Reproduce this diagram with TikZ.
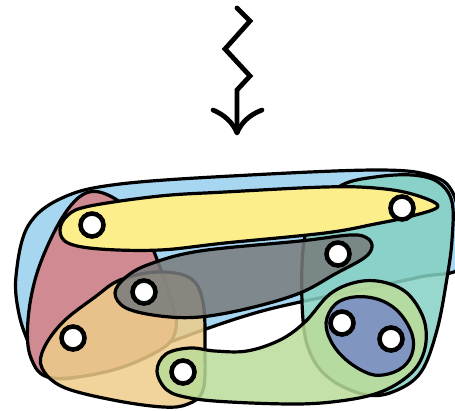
\documentclass[tikz,border=0pt]{standalone}
\usetikzlibrary{arrows.meta}
\definecolor{cblue}{RGB}{166,214,240}
\definecolor{cred}{RGB}{208,138,146}
\definecolor{cyellow}{RGB}{252,238,138}
\definecolor{cteal}{RGB}{134,209,195}
\definecolor{corange}{RGB}{237,204,137}
\definecolor{cgray}{RGB}{120,123,124}
\definecolor{cgreen}{RGB}{186,220,153}
\definecolor{cindigo}{RGB}{128,150,192}
\tikzset{
  blob/.style={draw=black, line width=3.2pt, line join=round},
  seethrough/.style={fill opacity=0.85},
  vertex/.style={circle, draw=black, fill=white, line width=4.6pt, minimum size=23pt, inner sep=0pt},
  zig/.style={line width=4.8pt, line cap=round, line join=miter},
  barb/.style={line width=4.8pt, line cap=round, line join=round}
}
\begin{document}
\begin{tikzpicture}[x=1pt,y=-1pt]
\useasboundingbox (0,0) rectangle (455,410);

% blue ring (horseshoe)
\filldraw[blob, fill=cblue] plot[smooth cycle, tension=0.6] coordinates {
 (45,372) (30,346) (19,314) (16,276) (28,226) (62,198) (120,184) (250,175) (380,170)
 (432,176) (453,193) (460,230) (460,268) (420,277) (350,292) (300,302)
 (255,313) (203,330) (130,357) (72,378)};

% red
\filldraw[blob, fill=cred] plot[smooth cycle, tension=0.6] coordinates {
 (62,218) (86,193) (112,197) (140,222) (158,262) (172,303) (176,328)
 (163,348) (113,370) (52,378) (31,358) (28,320) (38,270)};

% teal
\filldraw[blob, fill=cteal, seethrough] plot[smooth cycle, tension=0.6] coordinates {
 (303,250) (315,208) (342,185) (375,177) (412,175) (438,182) (452,202)
 (452,240) (447,278) (437,330) (421,372) (395,391) (367,395) (333,381)
 (312,357) (303,320)};

% orange
\filldraw[blob, fill=corange, seethrough] plot[smooth cycle, tension=0.6] coordinates {
 (120,280) (157,272) (190,278) (203,302) (205,350) (203,390) (188,404)
 (163,407) (113,400) (63,387) (42,368) (44,348) (63,322) (95,297)};

% yellow
\filldraw[blob, fill=cyellow] plot[smooth cycle, tension=0.6] coordinates {
 (60,230) (68,215) (90,206) (160,196) (225,192) (325,187) (375,188)
 (412,194) (438,206) (412,216) (375,224) (325,233) (225,243) (160,250)
 (100,249) (68,243)};

% gray
\filldraw[blob, fill=cgray, seethrough] plot[smooth cycle, tension=0.6] coordinates {
 (115,293) (126,277) (150,264) (200,251) (300,241) (350,235) (367,238)
 (372,247) (364,258) (335,274) (300,293) (250,308) (200,317) (160,316)
 (126,308)};

% green
\filldraw[blob, fill=cgreen, seethrough] plot[smooth cycle, tension=0.6] coordinates {
 (157,371) (166,354) (190,348) (215,351) (247,351) (280,340) (305,322)
 (330,294) (357,282) (383,282) (407,293) (423,317) (426,342) (418,365)
 (400,382) (375,394) (340,401) (297,404) (230,402) (190,398) (167,390)};

% indigo
\filldraw[blob, fill=cindigo] plot[smooth cycle, tension=0.65] coordinates {
 (327,318) (340,301) (367,297) (393,307) (410,329) (413,350) (403,367)
 (383,375) (365,372) (343,357) (329,337)};

% vertices
\node[vertex] (v1) at (92,225) {};
\node[vertex] (v2) at (402,208) {};
\node[vertex] (v3) at (338,254) {};
\node[vertex] (v4) at (144,292) {};
\node[vertex] (v5) at (73,338) {};
\node[vertex] (v6) at (183,372) {};
\node[vertex] (v7) at (342,323) {};
\node[vertex] (v8) at (391,339) {};

% zigzag arrow
\coordinate (z0) at (237,8);
\coordinate (z1) at (250,21);
\coordinate (z2) at (225,49);
\coordinate (z3) at (250,76);
\coordinate (z4) at (237,90);
\coordinate (z5) at (237,131);
\coordinate (bl) at (213,110);
\coordinate (br) at (262,110);
\draw[zig] (z0) -- (z1) -- (z2) -- (z3) -- (z4) -- (z5);
\draw[barb] (bl) .. controls (225,115) and (233,123) .. (237,133)
            .. controls (241,123) and (249,115) .. (br);
\end{tikzpicture}
\end{document}
